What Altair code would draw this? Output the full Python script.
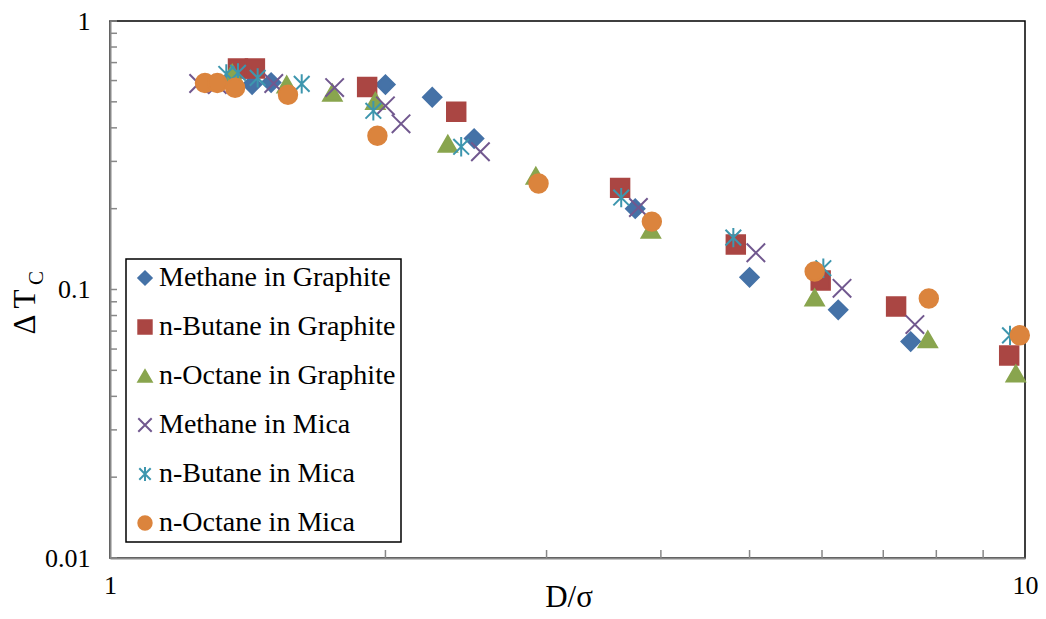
import altair as alt
import pandas as pd

series_names = ["Methane in Graphite", "n-Butane in Graphite", "n-Octane in Graphite",
                "Methane in Mica", "n-Butane in Mica", "n-Octane in Mica"]

mg_x = [1.43, 1.50, 2.00, 2.25, 2.50, 3.75, 5.00, 6.25, 7.50]
mg_y = [0.58, 0.59, 0.58, 0.52, 0.365, 0.20, 0.111, 0.084, 0.064]

bg_x = [1.38, 1.44, 1.91, 2.39, 3.61, 4.83, 5.98, 7.23, 9.61]
bg_y = [0.665, 0.665, 0.568, 0.459, 0.239, 0.147, 0.108, 0.0865, 0.0568]

og_x = [1.36, 1.56, 1.75, 1.95, 2.34, 2.92, 3.90, 5.89, 7.83, 9.77]
og_y = [0.64, 0.58, 0.54, 0.504, 0.349, 0.265, 0.167, 0.0934, 0.0652, 0.0487]

mm_x = [1.25, 1.31, 1.51, 1.76, 2.00, 2.08, 2.54, 3.78, 5.08, 6.31, 7.58]
mm_y = [0.585, 0.58, 0.585, 0.565, 0.483, 0.414, 0.326, 0.202, 0.137, 0.101, 0.074]

bm_x = [1.34, 1.38, 1.45, 1.62, 1.94, 2.42, 3.62, 4.80, 6.02, 9.63]
bm_y = [0.635, 0.641, 0.614, 0.583, 0.463, 0.340, 0.220, 0.156, 0.120, 0.0675]

om_x = [1.27, 1.31, 1.37, 1.565, 1.96, 2.94, 3.91, 5.89, 7.85, 9.87]
om_y = [0.588, 0.588, 0.564, 0.531, 0.374, 0.248, 0.179, 0.1167, 0.0926, 0.0675]

x_ticks = [1, 2, 3, 4, 5, 6, 7, 8, 9, 10]
y_ticks = [0.01, 0.02, 0.03, 0.04, 0.05, 0.06, 0.07, 0.08, 0.09,
           0.1, 0.2, 0.3, 0.4, 0.5, 0.6, 0.7, 0.8, 0.9, 1]

x_title = "D/σ"
y_title_main = "Δ T"
y_title_sub = "C"

xs = [mg_x, bg_x, og_x, mm_x, bm_x, om_x]
ys = [mg_y, bg_y, og_y, mm_y, bm_y, om_y]
rows = []
for i, (name, sx, sy) in enumerate(zip(series_names, xs, ys)):
    for a, b in zip(sx, sy):
        rows.append({"series": name, "order": i, "x": a, "y": b})
df = pd.DataFrame(rows)

FONT = "Liberation Serif"
fills = ["#4572A7", "#AA4643", "#89A54E", "transparent", "transparent", "#DB843D"]
strokes = ["#4572A7", "#AA4643", "#89A54E", "#71588F", "#3D96AE", "#DB843D"]
xpath = "M-1,-1L1,1M-1,1L1,-1"
astpath = "M-0.85,-0.85L0.85,0.85M-0.85,0.85L0.85,-0.85M0,-1.05L0,1.05"
shapes = ["diamond", "square", "triangle-up", xpath, astpath, "circle"]

W, H = 915, 537

xscale = alt.Scale(type="log", domain=[1, 10], nice=False)
yscale = alt.Scale(type="log", domain=[0.01, 1], nice=False)

leg = alt.Legend(title=None)

points = alt.Chart(df).mark_point(filled=True, opacity=1, strokeWidth=2, size=340).encode(
    x=alt.X("x:Q", scale=xscale,
            axis=alt.Axis(values=x_ticks, title="", ticks=False, grid=False,
                          labelExpr="datum.value == 1 ? '1' : datum.value == 10 ? '10' : ''",
                          labelFont=FONT, labelFontSize=26, labelColor="black", labelPadding=14,
                          labelFlush=False,
                          domainColor="#888888", domainWidth=2)),
    y=alt.Y("y:Q", scale=yscale,
            axis=alt.Axis(values=y_ticks, title="", ticks=False, grid=False,
                          labelExpr="datum.value == 1 ? '1' : datum.value == 0.1 ? '0.1' : datum.value == 0.01 ? '0.01' : ''",
                          labelFont=FONT, labelFontSize=26, labelColor="black", labelPadding=20,
                          labelFlush=False,
                          domainColor="#888888", domainWidth=2)),
    fill=alt.Fill("series:N", scale=alt.Scale(domain=series_names, range=fills), legend=leg),
    stroke=alt.Stroke("series:N", scale=alt.Scale(domain=series_names, range=strokes), legend=leg),
    shape=alt.Shape("series:N", scale=alt.Scale(domain=series_names, range=shapes), legend=leg),
    order="order:Q",
)

ytick_df = pd.DataFrame({"v": y_ticks})
xtick_df = pd.DataFrame({"v": x_ticks[1:-1]})

yt = alt.Chart(ytick_df).mark_rule(color="#888888", strokeWidth=1.5).encode(
    y=alt.Y("v:Q", scale=yscale), x=alt.value(0), x2=alt.value(7))
xt = alt.Chart(xtick_df).mark_rule(color="#888888", strokeWidth=1.5).encode(
    x=alt.X("v:Q", scale=xscale), y=alt.value(H - 8), y2=alt.value(H))

ytitle = alt.Chart(pd.DataFrame({"t": [y_title_main]})).mark_text(
    font=FONT, fontSize=31, angle=270, color="black").encode(
    text="t:N", x=alt.value(-84), y=alt.value(291))
ysub = alt.Chart(pd.DataFrame({"t": [y_title_sub]})).mark_text(
    font=FONT, fontSize=21, angle=270, color="black").encode(
    text="t:N", x=alt.value(-73), y=alt.value(257))
xtitle = alt.Chart(pd.DataFrame({"t": [x_title]})).mark_text(
    font=FONT, fontSize=31, color="black", baseline="alphabetic").encode(
    text="t:N", x=alt.value(459), y=alt.value(586))

chart = alt.layer(yt, xt, points, ytitle, ysub, xtitle).properties(
    width=W, height=H,
    autosize=alt.AutoSizeParams(type="none"),
    padding={"left": 102, "top": 13, "right": 13, "bottom": 53},
).configure_view(
    stroke="black", strokeWidth=1.5
).configure_legend(
    orient="none", legendX=16, legendY=238,
    fillColor="white", strokeColor="black", strokeWidth=1.5,
    padding=5, labelFont=FONT, labelFontSize=28, labelColor="black",
    symbolSize=180, symbolStrokeWidth=2, rowPadding=21, labelOffset=0,
    labelLimit=400,
)

chart.save("out.html", embed_options={"renderer": "svg", "actions": False})
